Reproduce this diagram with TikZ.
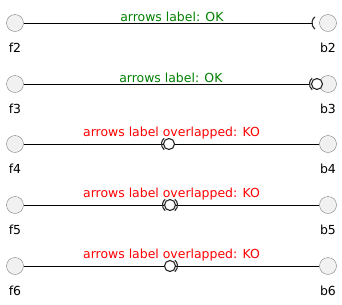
\documentclass[tikz,border=0pt]{standalone}
\usepackage{fontspec}
\setmainfont{DejaVu Sans}
\definecolor{portfill}{HTML}{F1F1F1}
\definecolor{okgreen}{HTML}{008000}
\definecolor{kored}{HTML}{FF0000}
\tikzset{
  port/.style={circle, draw=gray, fill=portfill, minimum size=17bp, inner sep=0pt},
  portname/.style={font=\fontsize{12.5}{14}\selectfont},
  ball/.style={draw=black!85, fill=white, line width=1.1pt},
  socket/.style={draw=black!85, line width=1.1pt},
  wirelabel/.style={font=\fontsize{12.5}{14}\selectfont, above, inner sep=1.5bp}
}
\begin{document}
\begin{tikzpicture}[x=1bp, y=-1bp]
    \useasboundingbox (0,0) rectangle (342,305);
    % ports and their names
    \foreach \i/\y in {2/23, 3/84, 4/144, 5/205, 6/266} {
        \node[port] (f\i) at (15,\y) {};
        \node[portname] (nf\i) at (15,\y+25) {f\i};
        \node[port] (b\i) at (328,\y) {};
        \node[portname] (nb\i) at (328,\y+25) {b\i};
    }
    % f2 -- b2 : socket at the end
    \coordinate (s2) at (320,23);
    \draw (f2) -- (312,23) node[wirelabel, text=okgreen, midway, xshift=4bp] (l2) {arrows label: OK};
    \draw[socket] (s2) ++(130:8) arc[start angle=130, end angle=230, radius=8];
    % f3 -- b3 : socket and ball at the end
    \coordinate (s3) at (317,84);
    \draw (f3) -- (310,84) node[wirelabel, text=okgreen, midway, xshift=4bp] (l3) {arrows label: OK};
    \draw[socket] (s3) ++(130:7.5) arc[start angle=130, end angle=230, radius=7.5];
    \draw[ball] (s3) circle (5.5);
    % f4 -- b4 : socket and ball midway
    \coordinate (s4) at (169,144);
    \draw (f4) -- (b4) node[wirelabel, text=kored, midway, yshift=3bp] (l4) {arrows label overlapped: KO};
    \draw[socket] (s4) ++(130:7.5) arc[start angle=130, end angle=230, radius=7.5];
    \draw[ball] (s4) circle (5.5);
    % f5 -- b5 : ball between two sockets
    \coordinate (s5) at (170,205);
    \draw (f5) -- (b5) node[wirelabel, text=kored, midway, yshift=3bp] (l5) {arrows label overlapped: KO};
    \draw[socket] (s5) ++(130:7.5) arc[start angle=130, end angle=230, radius=7.5];
    \draw[socket] (s5) ++(50:7.5) arc[start angle=50, end angle=-50, radius=7.5];
    \draw[ball] (s5) circle (5.5);
    % f6 -- b6 : ball with socket after it
    \coordinate (s6) at (170,266);
    \draw (f6) -- (b6) node[wirelabel, text=kored, midway, yshift=3bp] (l6) {arrows label overlapped: KO};
    \draw[socket] (s6) ++(50:7.5) arc[start angle=50, end angle=-50, radius=7.5];
    \draw[ball] (s6) circle (5.5);
\end{tikzpicture}
\end{document}
